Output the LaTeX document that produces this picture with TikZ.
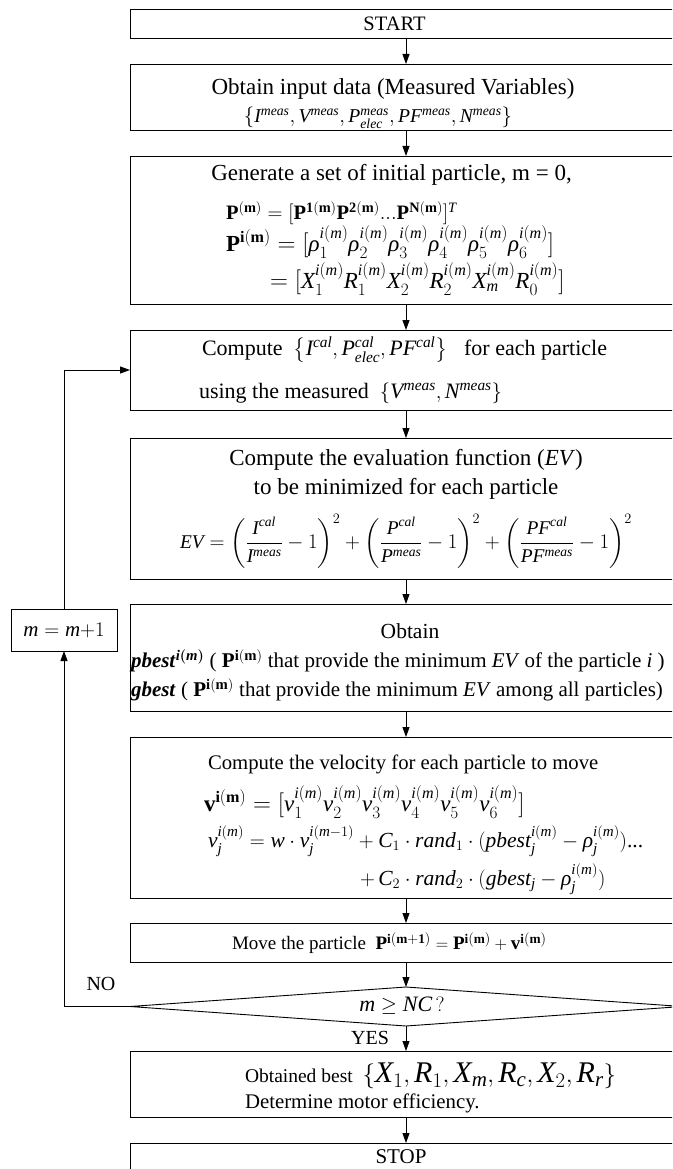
\documentclass[tikz,border=0pt]{standalone}
\usepackage{amsmath}
\usepackage{fontspec}
\setmainfont{Liberation Serif}
\newfontfamily\mathlibfam{Liberation Serif}[NFSSFamily=libser]
\DeclareSymbolFont{libletters}{TU}{libser}{m}{it}
\SetSymbolFont{libletters}{bold}{TU}{libser}{b}{it}
\makeatletter
\count@=`A
\loop \Umathcode\count@="7 \symlibletters \count@ \ifnum\count@<`Z \advance\count@ 1 \repeat
\count@=`a
\loop \Umathcode\count@="7 \symlibletters \count@ \ifnum\count@<`z \advance\count@ 1 \repeat
\makeatother
\Umathchardef\rho="7 \symlibletters "03C1
\usetikzlibrary{arrows.meta,shapes.geometric}
\newcommand{\fs}[1]{\fontsize{#1}{#1}\selectfont}
\newcommand{\bP}[1]{\mathbf{P}^{\mathbf{#1}}}
\tikzset{
  box/.style={draw=black, line width=0.9pt, minimum width=552pt, inner sep=0pt, outer sep=0pt},
  txt/.style={inner sep=0pt, outer sep=0pt, font=\fs{23}},
  lt/.style={txt, anchor=west},
  arr/.style={draw=black, line width=0.9pt, -{Triangle[length=10pt,width=7pt]}}
}
\begin{document}
\begin{tikzpicture}[x=1pt,y=-1pt]
\useasboundingbox (0,0) rectangle (672,1169);
\clip (0,0) rectangle (672,1169);
% boxes
\node[box, minimum height=29pt] (start) at (406,23.5) {};
\node[box, minimum height=66pt] (b2) at (406,97) {};
\node[box, minimum height=148pt] (b3) at (406,230) {};
\node[box, minimum height=80pt] (b4) at (406,370) {};
\node[box, minimum height=141pt] (b5) at (406,508.5) {};
\node[box, minimum height=107pt] (b6) at (406,657.5) {};
\node[box, minimum height=161pt] (b7) at (406,817.5) {};
\node[box, minimum height=39pt] (b8) at (406,942.5) {};
\node[box, shape=diamond, minimum height=39pt] (dec) at (406,1006.5) {};
\node[box, minimum height=66pt] (b9) at (406,1084) {};
\node[box, minimum height=35pt] (stop) at (406,1160.5) {};
\node[box, minimum width=106pt, minimum height=42pt] (mbox) at (64,630) {};
% texts
\node[txt, font=\fs{20.5}] (tstart) at (394.5,24) {START};
\node[txt] (t2a) at (393,89) {Obtain input data (Measured Variables)};
\node[txt, font=\fs{19.6}] (t2b) at (378,118) {$\left\{I^{meas}, V^{meas}, P^{meas}_{elec}, PF^{meas}, N^{meas}\right\}$};
\node[txt] (t3a) at (391.5,175) {Generate a set of initial particle, m = 0,};
\node[lt, font=\fs{20.5}] (t3b) at (226,213) {$\bP{(m)} = [\bP{1(m)}\bP{2(m)}\mathbf{...}\bP{N(m)}]^{T}$};
\node[lt] (t3c) at (226,242) {$\bP{i(m)} = [\rho_1^{i(m)}\rho_2^{i(m)}\rho_3^{i(m)}\rho_4^{i(m)}\rho_5^{i(m)}\rho_6^{i(m)}]$};
\node[lt] (t3d) at (270,279) {$= [X_1^{i(m)}R_1^{i(m)}X_2^{i(m)}R_2^{i(m)}X_m^{i(m)}R_0^{i(m)}]$};
\node[lt, font=\fs{22}] (t4a) at (202,350) {Compute\ \ $\left\{I^{cal}, P^{cal}_{elec}, PF^{cal}\right\}$\ \ \ for each particle};
\node[lt, font=\fs{22}] (t4b) at (199,393) {using the measured\ \ $\left\{V^{meas}, N^{meas}\right\}$};
\node[txt] (t5a) at (406,460) {Compute the evaluation function (\textit{EV})};
\node[txt] (t5b) at (406,489) {to be minimized for each particle};
\node[txt, font=\fs{19.4}] (t5c) at (406,541) {$\displaystyle EV=\left(\frac{I^{cal}}{I^{meas}}-1\right)^{2}+\left(\frac{P^{cal}}{P^{meas}}-1\right)^{2}+\left(\frac{PF^{cal}}{PF^{meas}}-1\right)^{2}$};
\node[txt, font=\fs{21.5}] (t6a) at (410,631) {Obtain};
\node[lt, font=\fs{21}] (t6b) at (131,661) {\textbf{\textit{pbest}}$^{\boldsymbol{i(m)}}$ ( $\bP{i(m)}$ that provide the minimum \textit{EV} of the particle \textit{i} )};
\node[lt, font=\fs{21}] (t6c) at (131,690) {\textbf{\textit{gbest}} ( $\bP{i(m)}$ that provide the minimum \textit{EV} among all particles)};
\node[lt, font=\fs{20.7}] (t7a) at (208,764) {Compute the velocity for each particle to move};
\node[lt] (t7b) at (204,802) {$\mathbf{v}^{\mathbf{i(m)}} = [v_1^{i(m)}v_2^{i(m)}v_3^{i(m)}v_4^{i(m)}v_5^{i(m)}v_6^{i(m)}]$};
\node[lt, font=\fs{21.5}] (t7c) at (208,841) {$v_j^{i(m)} = w\cdot v_j^{i(m-1)}+C_1\cdot rand_1\cdot(pbest_j^{i(m)}-\rho_j^{i(m)})\text{...}$};
\node[lt, font=\fs{21.5}] (t7d) at (360,879) {$+\,C_2\cdot rand_2\cdot(gbest_j-\rho_j^{i(m)})$};
\node[lt, font=\fs{19}] (t8) at (232,943) {Move the particle\ \ $\bP{i(m+1)} = \bP{i(m)} + \mathbf{v}^{\mathbf{i(m)}}$};
\node[txt, font=\fs{22}] (tdec) at (402,1006) {$m\ge NC\,?$};
\node[txt, font=\fs{20}] (tyes) at (370,1038) {YES};
\node[txt, font=\fs{20}] (tno) at (101,984) {NO};
\node[lt, font=\fs{19.5}] (t9a) at (245,1076) {Obtained best\ \ {\fs{30}$\left\{X_1,R_1,X_m,R_c,X_2,R_r\right\}$}};
\node[lt, font=\fs{20.8}] (t9b) at (245,1103) {Determine motor efficiency.};
\node[txt, font=\fs{21}] (tstop) at (401,1157) {STOP};
\node[txt, font=\fs{21}] (tm) at (64,630) {$m = m{+}1$};
% connectors
\draw[arr] (start.south) -- (b2.north);
\draw[arr] (b2.south) -- (b3.north);
\draw[arr] (b3.south) -- (b4.north);
\draw[arr] (b4.south) -- (b5.north);
\draw[arr] (b5.south) -- (b6.north);
\draw[arr] (b6.south) -- (b7.north);
\draw[arr] (b7.south) -- (b8.north);
\draw[arr] (b8.south) -- (dec.north);
\draw[arr] (dec.south) -- (b9.north);
\draw[arr] (b9.south) -- (stop.north);
\draw[arr] (dec.west) -| (mbox.south);
\draw[arr] (mbox.north) |- (b4.west);
\end{tikzpicture}
\end{document}
